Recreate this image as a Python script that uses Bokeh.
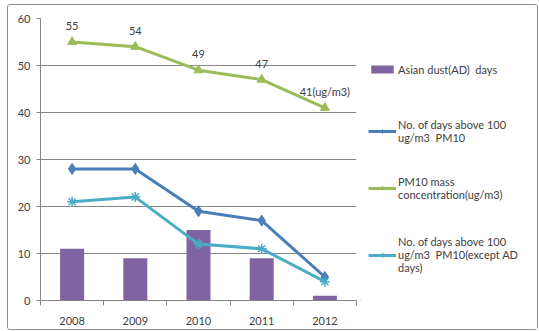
from bokeh.plotting import figure
from bokeh.layouts import row
from bokeh.models import (ColumnDataSource, FixedTicker, Legend, LegendItem,
                          LabelSet, Range1d)
from bokeh.core.properties import value
from bokeh.embed import file_html
from bokeh.resources import INLINE

# ---- data -------------------------------------------------------------
years = ["2008", "2009", "2010", "2011", "2012"]
asian_dust_days = [11, 9, 15, 9, 1]
days_above_100 = [28, 28, 19, 17, 5]
pm10_mass = [55, 54, 49, 47, 41]
days_above_100_except_ad = [21, 22, 12, 11, 4]
pm10_labels = ["55", "54", "49", "47", "41(ug/m3)"]

series_names = [
    "Asian dust(AD)  days",
    "No. of days above 100\nug/m3  PM10",
    "PM10 mass\nconcentration(ug/m3)",
    "No. of days above 100\nug/m3  PM10(except AD\ndays)",
]

# ---- styling ----------------------------------------------------------
FONT = "Lato"
TEXT = "#404040"
AXIS = "#868686"
PURPLE = "#8064A2"
BLUE = "#4A7EBB"
GREEN = "#9BBB59"
CYAN = "#4BACC6"

xs = list(range(1, len(years) + 1))
src = ColumnDataSource(dict(
    x=xs,
    dust=asian_dust_days,
    above=days_above_100,
    pm10=pm10_mass,
    above_ex=days_above_100_except_ad,
    pm10_lbl=pm10_labels,
))

BAR = dict(fill_color=PURPLE, line_color=None)
BLUE_LINE = dict(line_color=BLUE, line_width=3)
BLUE_MARK = dict(marker="diamond", size=11, fill_color=BLUE, line_color=BLUE)
GREEN_LINE = dict(line_color=GREEN, line_width=3)
GREEN_MARK = dict(marker="triangle", size=9, fill_color=GREEN, line_color=GREEN)
CYAN_LINE = dict(line_color=CYAN, line_width=3)
CYAN_MARK = dict(marker="asterisk", size=10, line_color=CYAN, line_width=1.5)


def draw_series(fig):
    """Draw all four series on a figure; returns renderers per series."""
    bar = fig.vbar(x="x", top="dust", width=0.38, source=src, **BAR)
    blue = [fig.line("x", "above", source=src, **BLUE_LINE),
            fig.scatter("x", "above", source=src, **BLUE_MARK)]
    green = [fig.line("x", "pm10", source=src, **GREEN_LINE),
             fig.scatter("x", "pm10", source=src, **GREEN_MARK)]
    cyan = [fig.line("x", "above_ex", source=src, **CYAN_LINE),
            fig.scatter("x", "above_ex", source=src, **CYAN_MARK)]
    return [bar], blue, green, cyan


# ---- main chart -------------------------------------------------------
p = figure(width=352, height=324,
           x_range=Range1d(0.5, len(years) + 0.5), y_range=Range1d(0, 60),
           output_backend="svg", toolbar_location=None,
           min_border_left=32, min_border_right=4,
           min_border_top=13, min_border_bottom=29)
p.outline_line_color = None
p.border_fill_color = "white"

p.xgrid.visible = False
p.ygrid.grid_line_color = AXIS
p.ygrid.grid_line_width = 1

p.yaxis.ticker = FixedTicker(ticks=[0, 10, 20, 30, 40, 50, 60])
p.yaxis.axis_line_color = AXIS
p.yaxis.major_tick_line_color = AXIS
p.yaxis.major_tick_out = 4
p.yaxis.major_tick_in = 0
p.yaxis.minor_tick_line_color = None
p.yaxis.major_label_standoff = 6

p.xaxis.ticker = FixedTicker(ticks=xs, minor_ticks=[i + 0.5 for i in range(len(years) + 1)])
p.xaxis.major_label_overrides = {x: y for x, y in zip(xs, years)}
p.xaxis.axis_line_color = AXIS
p.xaxis.major_tick_line_color = None
p.xaxis.major_tick_out = 0
p.xaxis.major_tick_in = 0
p.xaxis.minor_tick_line_color = AXIS
p.xaxis.minor_tick_out = 5
p.xaxis.minor_tick_in = 0
p.xaxis.major_label_standoff = 11

for ax in (p.xaxis[0], p.yaxis[0]):
    ax.major_label_text_font = FONT
    ax.major_label_text_font_size = "11px"
    ax.major_label_text_color = TEXT

draw_series(p)

# value labels on the PM10 series
p.add_layout(LabelSet(x="x", y="pm10", text="pm10_lbl", source=src,
                      text_align="center", text_baseline="middle", y_offset=16,
                      text_font=value(FONT), text_font_size="11px",
                      text_color=TEXT))

# ---- legend panel -----------------------------------------------------
# The series are drawn again here, well outside the visible ranges, so the
# legend entries have real renderers to take their glyphs from.
lg_fig = figure(width=177, height=324, x_range=Range1d(100, 101),
                y_range=Range1d(100, 101),
                x_axis_type=None, y_axis_type=None,
                output_backend="svg", toolbar_location=None,
                min_border=0)
lg_fig.grid.visible = False
lg_fig.outline_line_color = None
lg_fig.border_fill_color = "white"

k_bar, k_blue, k_green, k_cyan = draw_series(lg_fig)

legend_specs = [
    (series_names[0], k_bar, 223),
    (series_names[1], k_blue, 156),
    (series_names[2], k_green, 99),
    (series_names[3], k_cyan, 26),
]
for label, renderers, vy in legend_specs:
    lg = Legend(items=[LegendItem(label=label, renderers=renderers)],
                location=(8, vy), margin=0, padding=0, spacing=0,
                border_line_color=None, background_fill_alpha=0,
                glyph_width=28, glyph_height=10, label_height=16,
                label_standoff=2,
                label_text_font=FONT, label_text_font_size="11px",
                label_text_color=TEXT, label_text_line_height=1.5)
    lg_fig.add_layout(lg, "center")

layout = row(p, lg_fig)
layout.margin = (4, 0, 0, 7)
layout.styles = {"border": "1px solid #8c8c8c", "border-radius": "3px"}

open("out.html", "w").write(file_html(layout, INLINE))
